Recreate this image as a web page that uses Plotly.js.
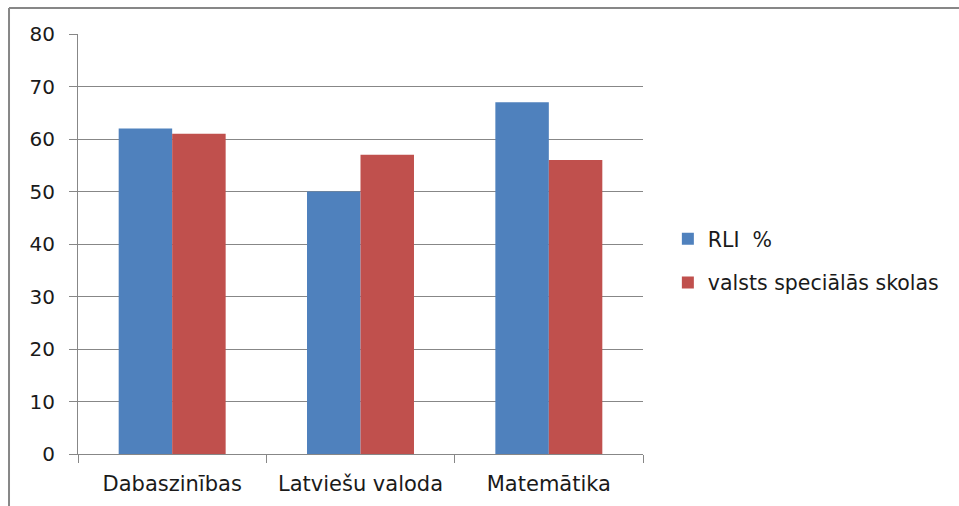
<!DOCTYPE html>
<html>
<head>
<meta charset="utf-8">
<script src="https://cdn.plot.ly/plotly-3.0.1.min.js"></script>
<style>
html,body{margin:0;padding:0;background:#fff;}
#chart{width:959px;height:506px;}
</style>
</head>
<body>
<div id="chart"></div>
<script>
const categories = ["Dabaszinības", "Latviešu valoda", "Matemātika"];
const seriesNames = ["RLI  %", "valsts speciālās skolas"];
const rliValues = [62, 50, 67];
const valstsValues = [61, 57, 56];
const yTicks = [0, 10, 20, 30, 40, 50, 60, 70, 80];

const colors = ["#4F81BD", "#C0504D"];
const fontFamily = "DejaVu Sans, Liberation Sans, sans-serif";
const gray = "#878787";

const traces = [
  {type: "bar", name: seriesNames[0], x: categories, y: rliValues,
   marker: {color: colors[0]}, legendgroup: "a"},
  {type: "bar", name: seriesNames[1], x: categories, y: valstsValues,
   marker: {color: colors[1]}, legendgroup: "b"}
];

const layout = {
  width: 959, height: 506,
  margin: {l: 78, r: 316, t: 34, b: 52},
  paper_bgcolor: "#ffffff", plot_bgcolor: "#ffffff",
  barmode: "group", bargap: 0.432, bargroupgap: 0,
  font: {family: fontFamily, color: "#000000"},
  xaxis: {
    type: "category",
    showline: true, linecolor: gray, linewidth: 1,
    ticks: "outside", tickson: "boundaries", ticklen: 8, tickcolor: gray, tickwidth: 1,
    tickfont: {family: fontFamily, size: 21, color: "#1a1a1a"},
    ticklabelstandoff: 11,
    showgrid: false, zeroline: false, fixedrange: true
  },
  yaxis: {
    range: [0, 80], tickmode: "array", tickvals: yTicks, ticktext: yTicks.map(String),
    showline: true, linecolor: gray, linewidth: 1,
    ticks: "outside", ticklen: 8, tickcolor: gray, tickwidth: 1,
    showgrid: true, gridcolor: gray, gridwidth: 1,
    zeroline: false,
    tickfont: {family: fontFamily, size: 20, color: "#1a1a1a"},
    ticklabelstandoff: 10, fixedrange: true
  },
  showlegend: true,
  legend: {
    x: 1.044, xanchor: "left", y: 0.4595, yanchor: "middle",
    font: {family: fontFamily, size: 20.5, color: "#1a1a1a"},
    traceorder: "grouped", tracegroupgap: 14,
    bgcolor: "rgba(0,0,0,0)", borderwidth: 0
  },
  shapes: [
    {type: "line", xref: "paper", yref: "paper", x0: -0.1221, x1: 1.6, y0: 1.0619, y1: 1.0619,
     line: {color: gray, width: 2}},
    {type: "line", xref: "paper", yref: "paper", x0: -0.1221, x1: -0.1221, y0: 1.0619, y1: -0.2,
     line: {color: gray, width: 2}}
  ]
};

Plotly.newPlot("chart", traces, layout, {displayModeBar: false, staticPlot: true});
</script>
</body>
</html>
